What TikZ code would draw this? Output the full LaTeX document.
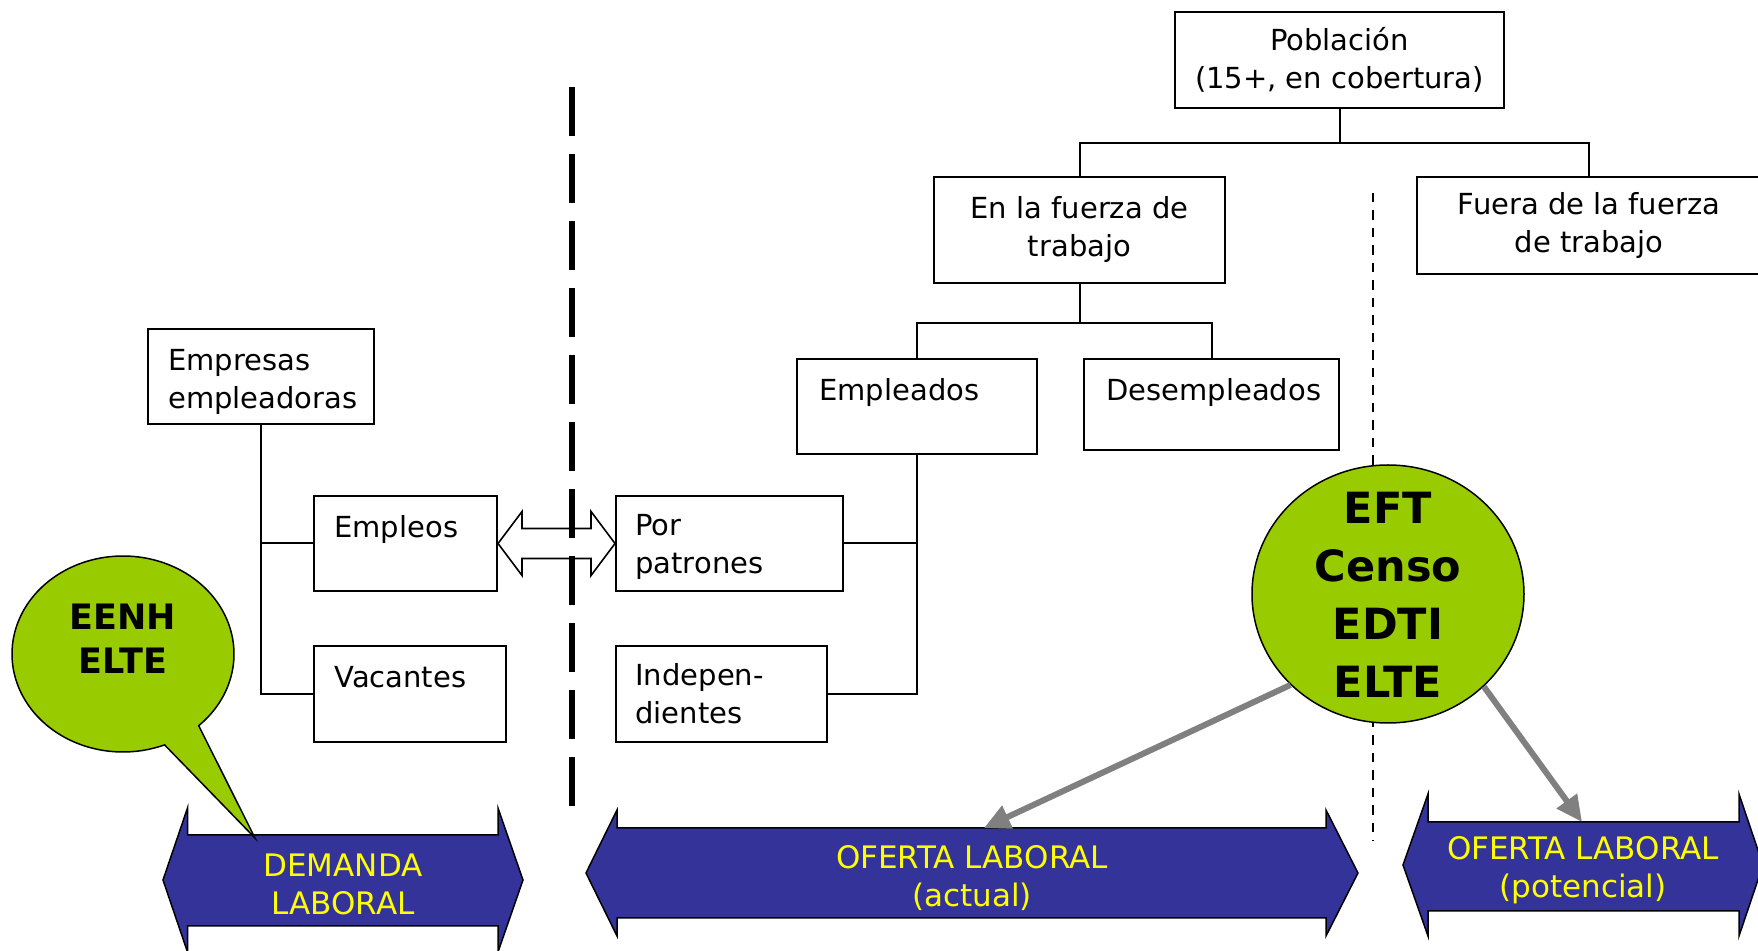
\documentclass[tikz,border=0pt]{standalone}
\usepackage{fontspec}
\setmainfont{DejaVu Sans}
\usetikzlibrary{calc,arrows.meta,shapes.geometric}
\definecolor{bubgreen}{HTML}{99CC00}
\definecolor{arrblue}{HTML}{333399}
\definecolor{txtyellow}{HTML}{FFFF00}
\definecolor{arrgray}{HTML}{808080}
\begin{document}
\begin{tikzpicture}[x=0.5pt,y=-0.5pt,
  box/.style={draw, line width=1pt, inner sep=0pt, fill=white},
  ctxt/.style={box, font=\fontsize{14.5}{19}\selectfont, align=center},
  btxt/.style={inner sep=0pt, font=\fontsize{14.5}{19}\selectfont, align=left, anchor=north west},
  conn/.style={line width=1pt},
  bigarrow/.style={draw=black, line width=0.75pt, fill=arrblue, line join=miter},
  hollow/.style={draw=black, line width=0.8pt, fill=white, line join=miter},
  ytxt/.style={text=txtyellow, font=\fontsize{15.5}{19}\selectfont, align=center, inner sep=0pt},
  garrow/.style={draw=arrgray, line width=3pt, -{Triangle[length=13pt,width=12pt]}},
  blob/.style={ellipse, draw, line width=0.75pt, fill=bubgreen, inner sep=0pt},
  bigtxt/.style={font=\bfseries\fontsize{21.5}{29}\selectfont, align=center, inner sep=0pt},
  smalltxt/.style={font=\bfseries\fontsize{17.5}{22}\selectfont, align=center, inner sep=0pt},
]
\clip (0,0) rectangle (1758,951);

% thin dashed divider
\draw[line width=1pt, dash pattern=on 4.75pt off 4pt] (1373,193) -- (1373,841);

% boxes
\node[ctxt, minimum width=164.5pt, minimum height=48pt] (pob) at (1339.5,60) {Población\\(15+, en cobertura)};
\node[ctxt, minimum width=145.5pt, minimum height=53pt] (enla) at (1079.5,230) {En la fuerza de\\trabajo};
\node[ctxt, minimum width=172pt, minimum height=48.5pt] (fuera) at (1589,225.5) {Fuera de la fuerza\\de trabajo};

\node[box, minimum width=120pt, minimum height=47.5pt] (emplead) at (917,406.5) {};
\node[btxt] (empleadT) at (819,373.4) {\strut Empleados};
\node[box, minimum width=127.5pt, minimum height=45.5pt] (desemp) at (1211.5,404.5) {};
\node[btxt] (desempT) at (1106,373.4) {\strut Desempleados};

\node[box, minimum width=113pt, minimum height=47.5pt] (empresas) at (261,376.5) {};
\node[btxt] (empresasT) at (168,343.4) {\strut Empresas\\empleadoras};
\node[box, minimum width=91.5pt, minimum height=47.5pt] (empleos) at (405.5,543.5) {};
\node[btxt] (empleosT) at (334,510.4) {\strut Empleos};
\node[box, minimum width=96pt, minimum height=48pt] (vacantes) at (410,694) {};
\node[btxt] (vacantesT) at (334,660.4) {\strut Vacantes};

\node[box, minimum width=113.5pt, minimum height=47.5pt] (porpat) at (729.5,543.5) {};
\node[btxt] (porpatT) at (635,508.4) {\strut Por\\patrones};
\node[box, minimum width=105.5pt, minimum height=48pt] (indep) at (721.5,694) {};
\node[btxt] (indepT) at (635,658.4) {\strut Indepen-\\dientes};

% tree connectors
\draw[conn] (pob.south) -- ++(0,34) coordinate (j1);
\draw[conn] (j1) -| (enla.north);
\draw[conn] (j1) -| (fuera.north);
\draw[conn] (enla.south) -- ++(0,39) coordinate (j2);
\draw[conn] (j2) -| (emplead.north);
\draw[conn] (j2) -| (desemp.north);
\draw[conn] (emplead.south) |- (porpat.east);
\draw[conn] (emplead.south) |- (indep.east);
\draw[conn] (empresas.south) |- (empleos.west);
\draw[conn] (empresas.south) |- (vacantes.west);

% hollow double arrow
\draw[hollow] (empleos.east) -- ++(24,-32) -- ++(0,17) -- ($(porpat.west)+(-24,-15)$) -- ++(0,-17)
  -- (porpat.west) -- ++(-24,32) -- ++(0,-17) -- ($(empleos.east)+(24,15)$) -- ++(0,17) -- cycle;

% thick dashed divider
\draw[line width=2.7pt, dash pattern=on 24.5pt off 9pt] (572,87) -- (572,806);

% blue double arrows
\draw[bigarrow] (163,880) -- (187.5,808) -- (187.5,835) -- (498,835) -- (498,808) -- (523,880)
  -- (498,952) -- (498,926) -- (187.5,926) -- (187.5,952) -- cycle;
\node[ytxt] (dem) at (343,884) {DEMANDA\\LABORAL};

\draw[bigarrow] (586,873) -- (617,810) -- (617,828) -- (1326,828) -- (1326,810) -- (1358,873)
  -- (1326,936) -- (1326,918) -- (617,918) -- (617,936) -- cycle;
\coordinate (actTop) at (984,828);
\node[ytxt] (act) at (972,878) {OFERTA LABORAL\\(actual)};

\draw[bigarrow] (1403,865) -- (1428,794) -- (1428,822) -- (1739,822) -- (1739,794) -- (1763,865)
  -- (1739,936) -- (1739,911) -- (1428,911) -- (1428,936) -- cycle;
\coordinate (potTop) at (1582,822);
\node[ytxt] (pot) at (1583,870) {OFERTA LABORAL\\(potencial)};

% EFT circle
\node[blob, minimum width=136pt, minimum height=129pt] (eft) at (1388,594) {};
\node[bigtxt] (eftT) at (1388,595) {EFT\\Censo\\EDTI\\ELTE};

% gray arrows
\draw[garrow] (eft.223) -- (actTop);
\draw[garrow] (eft.316) -- (potTop);

% speech bubble
\draw[line width=0.75pt, fill=bubgreen] plot[domain=68:407, samples=140] ({123+111*cos(\x)},{654+98*sin(\x)}) -- (255,838) coordinate (tailtip) -- cycle;
\node[smalltxt] (eenh) at (123,639) {EENH\\ELTE};
\end{tikzpicture}
\end{document}
